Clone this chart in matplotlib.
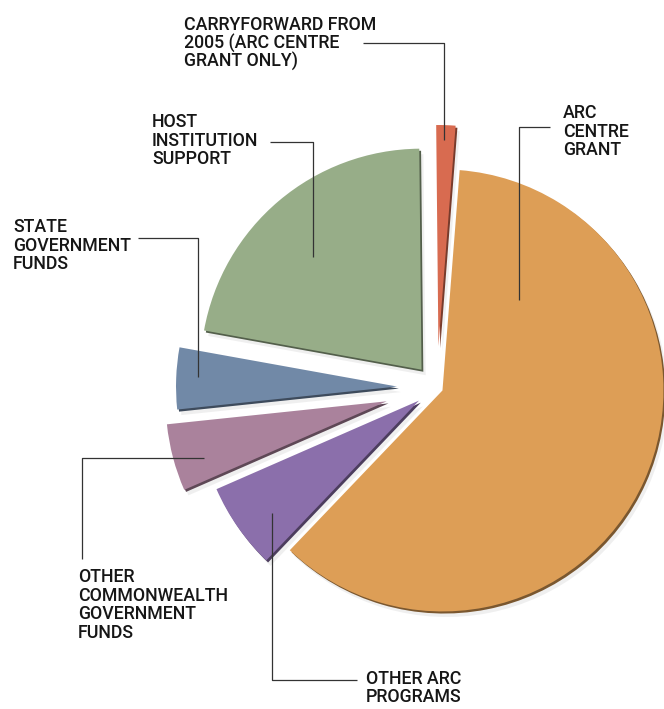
import matplotlib
matplotlib.use("Agg")
import matplotlib.pyplot as plt
import matplotlib.patheffects as pe
from matplotlib.colors import to_rgb

# ---- data ----
categories = ["ARC CENTRE GRANT", "CARRYFORWARD FROM 2005 (ARC CENTRE GRANT ONLY)",
              "HOST INSTITUTION SUPPORT", "STATE GOVERNMENT FUNDS",
              "OTHER COMMONWEALTH GOVERNMENT FUNDS", "OTHER ARC PROGRAMS"]
shares = [60.9, 1.4, 22.0, 4.5, 4.9, 6.3]
colors = ["#DD9E56", "#D86B50", "#97AD88", "#7189A7", "#AA829C", "#8B6FAB"]

W, H = 664, 709
fig = plt.figure(figsize=(W / 100, H / 100), dpi=100)
ax = fig.add_axes([0, 0, 1, 1])

def Y(y):
    return H - y

explode = [6, 42, 24, 40, 52, 22]
wedges, _ = ax.pie(shares, colors=colors, explode=explode, startangle=-133.7,
                   counterclock=True, radius=221, center=(437, Y(388)),
                   wedgeprops=dict(linewidth=0))

def darker(c, f=0.55):
    r, g, b = to_rgb(c)
    return (r * f, g * f, b * f)

for w, c in zip(wedges, colors):
    w.set_path_effects([
        pe.SimplePatchShadow(offset=(3, -4), shadow_rgbFace=(0.5, 0.5, 0.5), alpha=0.12),
        pe.SimplePatchShadow(offset=(1.3, -1.5), shadow_rgbFace=darker(c), alpha=1.0),
        pe.Normal(),
    ])

font = dict(family=["Roboto", "DejaVu Sans"], fontsize=12.8, fontweight="medium",
            color="#161616")
step = 18.6

def label(lines, x, y0, dy=step):
    for i, t in enumerate(lines):
        ax.text(x, Y(y0 + i * dy), t, ha="left", va="baseline", **font)

def leader(pts):
    xs = [p[0] for p in pts]
    ys = [Y(p[1]) for p in pts]
    ax.plot(xs, ys, color="#333333", lw=0.9, solid_capstyle="butt")

label(["CARRYFORWARD FROM", "2005 (ARC CENTRE", "GRANT ONLY)"], 184, 30)
leader([(363, 43), (444, 43), (444, 140)])

label(["HOST", "INSTITUTION", "SUPPORT"], 152, 127)
leader([(270, 142), (313, 142), (313, 257)])

label(["STATE", "GOVERNMENT", "FUNDS"], 13, 232)
leader([(138, 238), (198, 238), (198, 377)])

label(["ARC", "CENTRE", "GRANT"], 563, 118)
leader([(550, 127), (519, 127), (519, 300)])

label(["OTHER", "COMMONWEALTH", "GOVERNMENT", "FUNDS"], 78, 582)
leader([(82, 559), (82, 458), (204, 458)])

label(["OTHER ARC", "PROGRAMS"], 366, 684, dy=17.5)
leader([(357, 680), (272, 680), (272, 513)])

ax.set_xlim(0, W)
ax.set_ylim(0, H)
ax.set_aspect("equal")
ax.axis("off")
fig.savefig("out.png", dpi=100, facecolor="white")
